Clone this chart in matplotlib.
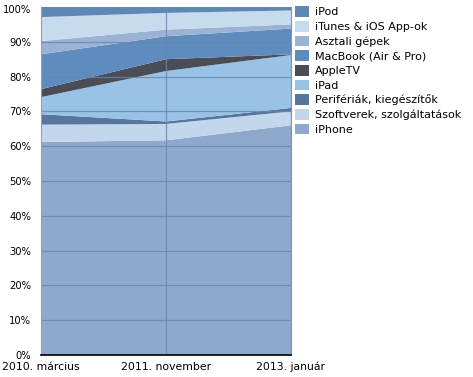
import numpy as np
import matplotlib.pyplot as plt
import matplotlib.transforms as mtransforms
from matplotlib.patches import Patch

# periods and shares (percent), bottom series first
periods = ['2010. március', '2011. november', '2013. január']
labels = ['iPhone', 'Szoftverek, szolgáltatások', 'Perifériák, kiegészítők', 'iPad',
          'AppleTV', 'MacBook (Air & Pro)', 'Asztali gépek', 'iTunes & iOS App-ok', 'iPod']
iphone = [61.2, 61.7, 66.0]
szoftver = [5.0, 4.7, 4.0]
periferia = [3.0, 0.7, 1.0]
ipad = [4.9, 14.5, 15.2]
appletv = [2.3, 3.4, 0.2]
macbook = [10.0, 6.6, 7.4]
asztali = [3.8, 1.9, 1.2]
itunes = [6.9, 4.8, 4.0]
ipod = [2.9, 1.7, 1.0]
yticks = [0, 10, 20, 30, 40, 50, 60, 70, 80, 90, 100]

colors = ['#8fa9cd', '#c2d7eb', '#56759f', '#98c3e6', '#4a4d55',
          '#5e8cbf', '#9ab3d4', '#c6dbee', '#5f87b6']

data = np.array([iphone, szoftver, periferia, ipad, appletv,
                 macbook, asztali, itunes, ipod])
data = data / data.sum(axis=0) * 100  # 100% stacked

fig = plt.figure(figsize=(4.73, 3.77), dpi=100)
ax = fig.add_axes([41 / 473, 22 / 377, 250 / 473, 348 / 377])
x = np.arange(len(periods))
ax.stackplot(x, data, colors=colors, linewidth=0)

ax.set_xlim(0, 2)
ax.set_ylim(0, 100)
ax.set_yticks(yticks)
ax.set_yticklabels([f'{v}%' for v in yticks], fontsize=7.2)
ax.set_xticks(x)
ax.set_xticklabels(periods, fontsize=7.8)
ax.tick_params(length=0, axis='y', pad=7)
ax.tick_params(length=0, axis='x', pad=5)
# nudge the top label down so it stays inside the figure
top_lbl = ax.get_yticklabels()[-1]
top_lbl.set_transform(top_lbl.get_transform() +
                      mtransforms.ScaledTranslation(0, -1.5 / 72, fig.dpi_scale_trans))
for v in yticks[1:-1]:
    ax.axhline(v, color='#6a84ab', lw=0.9, alpha=0.8)
ax.axvline(1, color='#6a84ab', lw=0.9, alpha=0.8)

ax.spines['top'].set_visible(False)
ax.spines['left'].set_color('#a0a0a0')
ax.spines['right'].set_color('#7a93b8')
ax.spines['bottom'].set_color('black')
ax.spines['bottom'].set_linewidth(1.2)

handles = [Patch(facecolor=c, edgecolor='none') for c in colors][::-1]
fig.legend(handles, labels[::-1], loc='upper left', bbox_to_anchor=(293 / 473, 1 - 4 / 377),
           frameon=False, fontsize=8, handlelength=1.2, handleheight=1.1,
           handletextpad=0.6, labelspacing=0.32, borderaxespad=0, borderpad=0.2)

fig.savefig('out.png', dpi=100)
